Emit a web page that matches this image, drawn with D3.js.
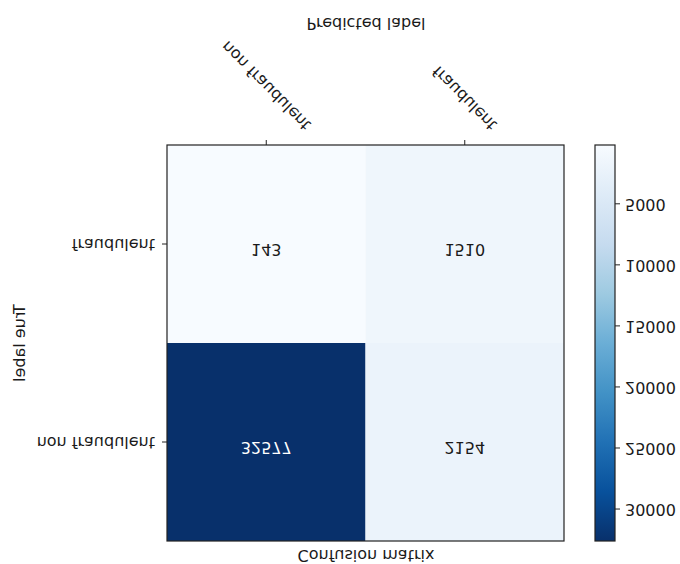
<!DOCTYPE html>
<html>
<head>
<meta charset="utf-8">
<script src="https://cdn.jsdelivr.net/npm/d3@7"></script>
<style>
  html, body { margin: 0; padding: 0; background: #fff; }
  svg { display: block; }
  text { font-family: "DejaVu Sans", sans-serif; fill: #1a1a1a; }
</style>
</head>
<body>
<div id="chart"></div>
<script>
// Class labels (row = true label, column = predicted label)
const classes = ["non fraudulent", "fraudulent"];
// Counts per true class, ordered by predicted class
const trueNonFraudulent = [32577, 2154];
const trueFraudulent = [143, 1510];
// Colour bar tick values
const colorbarTicks = [5000, 10000, 15000, 20000, 25000, 30000];

const W = 680, H = 564;
const FS = 16;

const rows = [trueNonFraudulent, trueFraudulent];
const cells = [];
rows.forEach((vals, r) => vals.forEach((v, c) => cells.push({ t: classes[r], p: classes[c], v })));

const vmin = d3.min(cells, d => d.v), vmax = d3.max(cells, d => d.v);

// Blues colormap as piecewise-linear ramp through the 9 brewer anchors
const blues = d3.schemeBlues[9];
const color = d3.scaleLinear()
  .domain(blues.map((_, i) => vmin + (vmax - vmin) * i / (blues.length - 1)))
  .range(blues)
  .interpolate(d3.interpolateRgb);

const svg = d3.select("#chart").append("svg")
  .attr("width", W).attr("height", H);
svg.append("rect").attr("width", W).attr("height", H).attr("fill", "#fff");

// The whole figure is mirrored top-to-bottom
const g = svg.append("g").attr("transform", `translate(0,${H}) scale(1,-1)`);

const plot = { left: 167, right: 564, top: 23, bottom: 419 };
const x = d3.scaleBand().domain(classes).range([plot.left, plot.right]);
const y = d3.scaleBand().domain(classes).range([plot.top, plot.bottom]);

// Heatmap cells
g.append("g").selectAll("rect").data(cells).join("rect")
  .attr("x", d => x(d.p)).attr("y", d => y(d.t))
  .attr("width", x.bandwidth()).attr("height", y.bandwidth())
  .attr("fill", d => color(d.v));

// Cell annotations
g.append("g").selectAll("text").data(cells).join("text")
  .attr("x", d => x(d.p) + x.bandwidth() / 2)
  .attr("y", d => y(d.t) + y.bandwidth() / 2)
  .attr("text-anchor", "middle")
  .style("font-size", FS + "px")
  .style("fill", d => d.v > vmax / 2 ? "#ffffff" : "#1a1a1a")
  .text(d => d.v);

// Spines
g.append("rect")
  .attr("x", plot.left).attr("y", plot.top)
  .attr("width", plot.right - plot.left).attr("height", plot.bottom - plot.top)
  .attr("fill", "none").attr("stroke", "#222").attr("stroke-width", 1.2);

function styleAxis(sel) {
  sel.select(".domain").remove();
  sel.selectAll(".tick line").attr("stroke", "#222").attr("stroke-width", 1);
  sel.selectAll(".tick text").style("font-size", FS + "px").attr("fill", "#1a1a1a")
    .style("font-family", "'DejaVu Sans', sans-serif");
}

// Y axis (true label)
const yAxis = g.append("g").attr("transform", `translate(${plot.left},0)`)
  .call(d3.axisLeft(y).tickSize(5).tickSizeOuter(0).tickPadding(7));
styleAxis(yAxis);

// X axis (predicted label), labels rotated 45 degrees and centred on the tick
const xAxis = g.append("g").attr("transform", `translate(0,${plot.bottom})`)
  .call(d3.axisBottom(x).tickSize(5).tickSizeOuter(0));
styleAxis(xAxis);
xAxis.selectAll(".tick text").each(function () {
  const t = d3.select(this);
  const L = this.getComputedTextLength();
  const half = (L + FS) / (2 * Math.SQRT2);
  const cy = 12 + half;
  t.attr("y", 0).attr("dy", "0.32em").attr("x", 0)
    .attr("text-anchor", "middle")
    .attr("transform", `translate(0,${cy}) rotate(-45)`);
});

// Axis titles
g.append("text").attr("x", 366).attr("y", 546)
  .attr("text-anchor", "middle").style("font-size", FS + "px").text("Predicted label");
g.append("text").attr("transform", `translate(25,${(plot.top + plot.bottom) / 2}) rotate(-90)`)
  .attr("text-anchor", "middle").style("font-size", FS + "px").text("True label");
g.append("text").attr("x", 366).attr("y", 14)
  .attr("text-anchor", "middle").style("font-size", FS + "px").text("Confusion matrix");

// Colour bar
const cb = { left: 595, width: 20 };
const cbScale = d3.scaleLinear().domain([vmin, vmax]).range([plot.bottom, plot.top]);
const defs = svg.append("defs");
const grad = defs.append("linearGradient").attr("id", "bluesGrad")
  .attr("x1", 0).attr("y1", 1).attr("x2", 0).attr("y2", 0);
blues.forEach((c, i) => grad.append("stop")
  .attr("offset", (i / (blues.length - 1) * 100) + "%").attr("stop-color", c));
g.append("rect")
  .attr("x", cb.left).attr("y", plot.top)
  .attr("width", cb.width).attr("height", plot.bottom - plot.top)
  .attr("fill", "url(#bluesGrad)")
  .attr("stroke", "#222").attr("stroke-width", 1.2);
const cbAxis = g.append("g").attr("transform", `translate(${cb.left + cb.width},0)`)
  .call(d3.axisRight(cbScale).tickValues(colorbarTicks).tickFormat(d3.format("d"))
    .tickSize(5).tickSizeOuter(0).tickPadding(5));
styleAxis(cbAxis);
</script>
</body>
</html>
